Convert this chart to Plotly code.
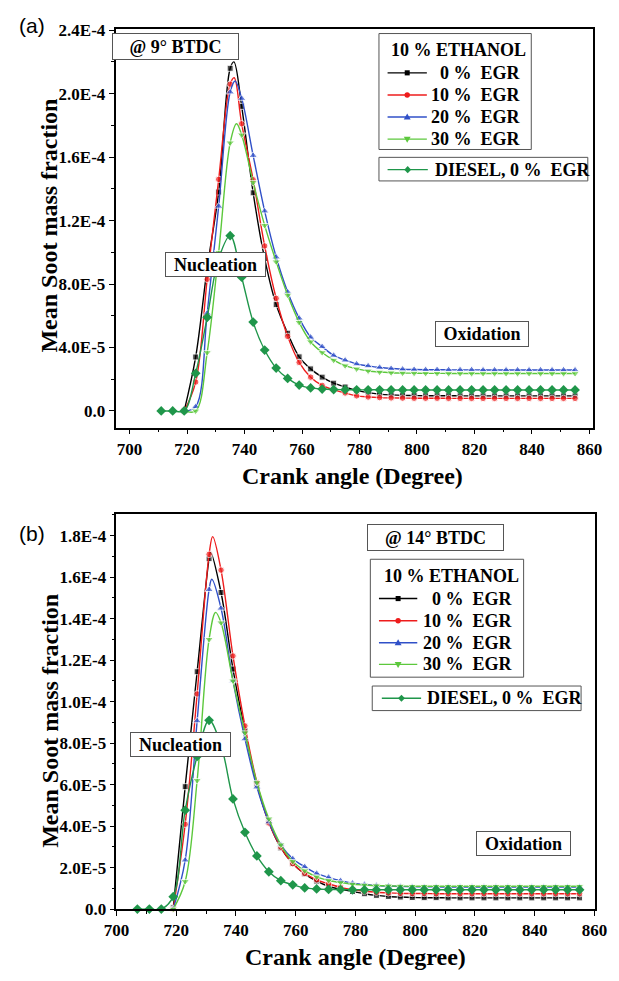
import plotly.graph_objects as go

# ---------------- crank-angle grids (degrees) ----------------
top_x_diesel = list(range(711, 856, 4))
top_x_eth = list(range(719, 856, 4))
bot_x_diesel = list(range(707, 856, 4))
bot_x_eth = list(range(719, 856, 4))

# ---------------- (a) injection @ 9 deg BTDC ----------------
top_eth0 = [0, 3.4e-5, 9.0e-5, 1.38e-4, 2.16e-4, 1.92e-4, 1.375e-4, 9.6e-5, 6.7e-5, 4.9e-5,
            3.41e-5, 2.65e-5, 2.13e-5, 1.75e-5, 1.51e-5, 1.3e-5, 1.15e-5, 1.06e-5, 1.01e-5, 9.8e-6,
            9.7e-6, 9.6e-6, 9.6e-6, 9.6e-6, 9.5e-6, 9.5e-6, 9.5e-6, 9.5e-6, 9.5e-6, 9.5e-6,
            9.5e-6, 9.5e-6, 9.5e-6, 9.5e-6, 9.5e-6]
top_eth10 = [0, 1.82e-5, 8.3e-5, 1.46e-4, 2.06e-4, 1.81e-4, 1.457e-4, 1.04e-4, 7.1e-5, 4.7e-5,
             3.06e-5, 2.13e-5, 1.61e-5, 1.33e-5, 1.13e-5, 9.5e-6, 8.8e-6, 8.4e-6, 8.2e-6, 8.1e-6,
             8.0e-6, 8.0e-6, 8.0e-6, 7.9e-6, 7.9e-6, 7.9e-6, 7.9e-6, 7.9e-6, 7.9e-6, 7.9e-6,
             7.9e-6, 7.9e-6, 7.9e-6, 7.9e-6, 7.9e-6]
top_eth20 = [0, 2.7e-6, 6.16e-5, 1.29e-4, 2.01e-4, 1.97e-4, 1.61e-4, 1.26e-4, 9.7e-5, 7.5e-5,
             5.85e-5, 4.65e-5, 4.05e-5, 3.5e-5, 3.2e-5, 2.96e-5, 2.84e-5, 2.74e-5, 2.67e-5, 2.63e-5,
             2.61e-5, 2.6e-5, 2.6e-5, 2.59e-5, 2.59e-5, 2.59e-5, 2.58e-5, 2.58e-5, 2.58e-5, 2.58e-5,
             2.58e-5, 2.58e-5, 2.58e-5, 2.58e-5, 2.58e-5]
top_eth30 = [0, 0, 3.68e-5, 1.0e-4, 1.69e-4, 1.74e-4, 1.44e-4, 1.17e-4, 9.4e-5, 7.3e-5,
             5.58e-5, 4.36e-5, 3.68e-5, 3.2e-5, 2.85e-5, 2.65e-5, 2.52e-5, 2.45e-5, 2.41e-5, 2.39e-5,
             2.38e-5, 2.37e-5, 2.37e-5, 2.36e-5, 2.36e-5, 2.36e-5, 2.36e-5, 2.36e-5, 2.36e-5, 2.36e-5,
             2.36e-5, 2.36e-5, 2.36e-5, 2.36e-5, 2.36e-5]
top_diesel = [0, 0, 0, 2.37e-5, 5.9e-5, 9.6e-5, 1.105e-4, 8.43e-5, 5.6e-5, 3.84e-5,
              2.7e-5, 2.05e-5, 1.63e-5, 1.45e-5, 1.38e-5, 1.35e-5, 1.34e-5, 1.33e-5, 1.33e-5, 1.33e-5,
              1.32e-5, 1.32e-5, 1.32e-5, 1.32e-5, 1.32e-5, 1.32e-5, 1.32e-5, 1.32e-5, 1.32e-5, 1.32e-5,
              1.32e-5, 1.32e-5, 1.32e-5, 1.32e-5, 1.32e-5, 1.32e-5, 1.32e-5]
# curve maxima between sampled points (angle, value)
top_peaks = {"0": (736.3, 2.2e-4), "10": (736.4, 2.1e-4), "20": (736.7, 2.08e-4), "30": (737.2, 1.81e-4)}

# ---------------- (b) injection @ 14 deg BTDC ----------------
bot_eth0 = [6e-7, 5.9e-5, 1.144e-4, 1.689e-4, 1.526e-4, 1.157e-4, 8.6e-5, 6.0e-5, 4.2e-5, 2.95e-5,
            2.2e-5, 1.7e-5, 1.35e-5, 1.1e-5, 9.5e-6, 8.5e-6, 7.4e-6, 6.6e-6, 6.1e-6, 5.8e-6,
            5.6e-6, 5.5e-6, 5.5e-6, 5.4e-6, 5.4e-6, 5.4e-6, 5.4e-6, 5.4e-6, 5.4e-6, 5.4e-6,
            5.4e-6, 5.4e-6, 5.4e-6, 5.4e-6, 5.4e-6]
bot_eth10 = [0, 4.09e-5, 1.037e-4, 1.71e-4, 1.634e-4, 1.22e-4, 8.83e-5, 6.1e-5, 4.15e-5, 2.99e-5,
             2.19e-5, 1.72e-5, 1.41e-5, 1.22e-5, 1.05e-5, 9.3e-6, 8.6e-6, 8.1e-6, 7.8e-6, 7.6e-6,
             7.5e-6, 7.5e-6, 7.4e-6, 7.4e-6, 7.4e-6, 7.4e-6, 7.4e-6, 7.4e-6, 7.4e-6, 7.4e-6,
             7.4e-6, 7.4e-6, 7.4e-6, 7.4e-6, 7.4e-6]
bot_eth20 = [0, 2.36e-5, 9.07e-5, 1.54e-4, 1.45e-4, 1.1e-4, 8.2e-5, 5.88e-5, 4.2e-5, 3.1e-5,
             2.43e-5, 2.04e-5, 1.72e-5, 1.53e-5, 1.37e-5, 1.25e-5, 1.19e-5, 1.14e-5, 1.11e-5, 1.09e-5,
             1.08e-5, 1.07e-5, 1.07e-5, 1.06e-5, 1.06e-5, 1.06e-5, 1.06e-5, 1.06e-5, 1.06e-5, 1.06e-5,
             1.06e-5, 1.06e-5, 1.06e-5, 1.06e-5, 1.06e-5]
bot_eth30 = [0, 1.33e-5, 6.2e-5, 1.3e-4, 1.38e-4, 1.1e-4, 8.5e-5, 6.1e-5, 4.35e-5, 3.1e-5,
             2.3e-5, 1.85e-5, 1.55e-5, 1.38e-5, 1.28e-5, 1.2e-5, 1.16e-5, 1.13e-5, 1.12e-5, 1.11e-5,
             1.1e-5, 1.1e-5, 1.1e-5, 1.1e-5, 1.1e-5, 1.1e-5, 1.1e-5, 1.1e-5, 1.1e-5, 1.1e-5,
             1.1e-5, 1.1e-5, 1.1e-5, 1.1e-5, 1.1e-5]
bot_diesel = [0, 0, 0, 6e-6, 4.77e-5, 7.36e-5, 9.1e-5, 7.9e-5, 5.31e-5, 3.7e-5,
              2.56e-5, 1.8e-5, 1.37e-5, 1.17e-5, 1.02e-5, 9.7e-6, 9.5e-6, 9.4e-6, 9.3e-6, 9.3e-6,
              9.3e-6, 9.3e-6, 9.3e-6, 9.3e-6, 9.3e-6, 9.3e-6, 9.3e-6, 9.3e-6, 9.3e-6, 9.3e-6,
              9.3e-6, 9.3e-6, 9.3e-6, 9.3e-6, 9.3e-6, 9.3e-6, 9.3e-6, 9.3e-6]
bot_peaks = {"0": (731.5, 1.72e-4), "10": (732.2, 1.795e-4), "20": (731.9, 1.59e-4), "30": (733.2, 1.43e-4)}

# ---------------- axis ticks and legend text ----------------
x_ticks = [700, 720, 740, 760, 780, 800, 820, 840, 860]
x_ticktext = ["700", "720", "740", "760", "780", "800", "820", "840", "860"]
top_yticks = [0, 4e-5, 8e-5, 1.2e-4, 1.6e-4, 2.0e-4, 2.4e-4]
top_yticktext = ["0.0", "4.0E-5", "8.0E-5", "1.2E-4", "1.6E-4", "2.0E-4", "2.4E-4"]
bot_yticks = [0, 2e-5, 4e-5, 6e-5, 8e-5, 1.0e-4, 1.2e-4, 1.4e-4, 1.6e-4, 1.8e-4]
bot_yticktext = ["0.0", "2.0E-5", "4.0E-5", "6.0E-5", "8.0E-5", "1.0E-4", "1.2E-4", "1.4E-4", "1.6E-4", "1.8E-4"]
eth_keys = ["0", "10", "20", "30"]
eth_labels = ["0 %\u00a0 EGR", "10 %\u00a0 EGR", "20 %\u00a0 EGR", "30 %\u00a0 EGR"]
eth_group_title = "10 % ETHANOL"
diesel_label = "DIESEL, 0 %\u00a0 EGR"

W, H = 619, 981
SERIF = "Liberation Serif"
BLACK, RED, BLUE, LGREEN, DGREEN = "#000000", "#ee1c1c", "#3050c8", "#5cc83c", "#1f964a"
STYLE = {
    "0": (BLACK, "square", 6),
    "10": (RED, "circle", 6.5),
    "20": (BLUE, "triangle-up", 7.5),
    "30": (LGREEN, "triangle-down", 7.5),
    "diesel": (DGREEN, "diamond", 7.5),
}


def px(x):
    return x / W


def py(y):
    return 1 - y / H


def with_peak(xs, ys, peak, size):
    """Merge a curve-maximum point into the sampled series; it gets no marker."""
    pts = [(x, y, size) for x, y in zip(xs, ys)]
    if peak is not None:
        pts.append((peak[0], peak[1], 0))
    pts.sort(key=lambda p: p[0])
    return [p[0] for p in pts], [p[1] for p in pts], [p[2] for p in pts]


fig = go.Figure()

panels = [
    dict(xa="x", ya="y", eth_x=top_x_eth, diesel_x=top_x_diesel, diesel=top_diesel,
         eth=[top_eth0, top_eth10, top_eth20, top_eth30], peaks=top_peaks),
    dict(xa="x2", ya="y2", eth_x=bot_x_eth, diesel_x=bot_x_diesel, diesel=bot_diesel,
         eth=[bot_eth0, bot_eth10, bot_eth20, bot_eth30], peaks=bot_peaks),
]

for p in panels:
    for key, label, ys in zip(eth_keys, eth_labels, p["eth"]):
        color, sym, size = STYLE[key]
        xs, yv, sizes = with_peak(p["eth_x"], ys, p["peaks"][key], size)
        fig.add_trace(go.Scatter(
            x=xs, y=yv, mode="lines+markers", name=label, showlegend=False,
            line=dict(color=color, width=1.4, shape="spline", smoothing=1.0),
            marker=dict(symbol=sym, size=sizes, color=color),
            xaxis=p["xa"], yaxis=p["ya"], cliponaxis=False,
        ))
    color, sym, size = STYLE["diesel"]
    fig.add_trace(go.Scatter(
        x=p["diesel_x"], y=p["diesel"], mode="lines+markers", name=diesel_label, showlegend=False,
        line=dict(color=color, width=1.4, shape="spline", smoothing=1.0),
        marker=dict(symbol=sym, size=size, color=color),
        xaxis=p["xa"], yaxis=p["ya"], cliponaxis=False,
    ))

tickfont = dict(family=SERIF, size=17, color="black", weight="bold")
common_axis = dict(
    showline=True, linecolor="black", linewidth=1.6, mirror=True,
    ticks="outside", ticklen=5, tickwidth=1.4, tickcolor="black",
    showgrid=False, zeroline=False, tickfont=tickfont, tickmode="array",
)


def minor(tick0, dtick):
    return dict(tickmode="linear", tick0=tick0, dtick=dtick, ticks="outside", ticklen=3,
                tickwidth=1.2, tickcolor="black")


fig.update_layout(
    width=W, height=H,
    margin=dict(l=0, r=0, t=0, b=0),
    paper_bgcolor="white", plot_bgcolor="white",
    showlegend=False,
    xaxis=dict(domain=[px(107), px(605)], anchor="y", range=[695.1, 861.1],
               tickvals=x_ticks, ticktext=x_ticktext, minor=minor(700, 10), **common_axis),
    yaxis=dict(domain=[py(428), py(22)], anchor="x", range=[-1.05e-5, 2.41e-4],
               tickvals=top_yticks, ticktext=top_yticktext, minor=minor(0, 2e-5), **common_axis),
    xaxis2=dict(domain=[px(108), px(607)], anchor="y2", range=[700, 860],
                tickvals=x_ticks, ticktext=x_ticktext, minor=minor(700, 10), **common_axis),
    yaxis2=dict(domain=[py(918), py(516)], anchor="x2", range=[0, 1.904e-4],
                tickvals=bot_yticks, ticktext=bot_yticktext, minor=minor(0, 1e-5), **common_axis),
)

# ---------------- hand-built legend boxes ----------------
shapes = []
annotations = []
text_font = dict(family=SERIF, size=18, color="black", weight="bold")
BOX_EDGE = "#555555"


def rect(x0, y0, x1, y1):
    shapes.append(dict(type="rect", xref="paper", yref="paper",
                       x0=px(x0), x1=px(x1), y0=py(y1), y1=py(y0),
                       fillcolor="white", line=dict(color=BOX_EDGE, width=1)))


def glyph(kind, cx, cy, color):
    """Small legend marker drawn as a shape centred on (cx, cy) in pixels."""
    if kind == "square":
        r = 2.6
        shapes.append(dict(type="rect", xref="paper", yref="paper",
                           x0=px(cx - r), x1=px(cx + r), y0=py(cy + r), y1=py(cy - r),
                           fillcolor=color, line=dict(width=0)))
        return
    if kind == "circle":
        r = 2.8
        shapes.append(dict(type="circle", xref="paper", yref="paper",
                           x0=px(cx - r), x1=px(cx + r), y0=py(cy + r), y1=py(cy - r),
                           fillcolor=color, line=dict(width=0)))
        return
    r = 3.6
    if kind == "triangle-up":
        pts = [(cx, cy - r), (cx + r, cy + r * 0.7), (cx - r, cy + r * 0.7)]
    elif kind == "triangle-down":
        pts = [(cx, cy + r), (cx + r, cy - r * 0.7), (cx - r, cy - r * 0.7)]
    else:
        pts = [(cx, cy - r), (cx + r, cy), (cx, cy + r), (cx - r, cy)]
    path = "M " + " L ".join(f"{px(x):.6f},{py(y):.6f}" for x, y in pts) + " Z"
    shapes.append(dict(type="path", xref="paper", yref="paper", path=path,
                       fillcolor=color, line=dict(width=0)))


def sample(key, x0, x1, y):
    color, sym, _ = STYLE[key]
    shapes.append(dict(type="line", xref="paper", yref="paper",
                       x0=px(x0), x1=px(x1), y0=py(y), y1=py(y),
                       line=dict(color=color, width=1.4)))
    glyph(sym, (x0 + x1) / 2, y, color)


def label(text, x, y, anchor):
    annotations.append(dict(text=text, x=px(x), y=py(y), xref="paper", yref="paper",
                            xanchor=anchor, yanchor="middle", showarrow=False, font=text_font))


def eth_legend(box, title_xy, rows_y, line_x, text_right):
    rect(*box)
    label(eth_group_title, title_xy[0], title_xy[1], "center")
    for key, text, y in zip(eth_keys, eth_labels, rows_y):
        sample(key, line_x[0], line_x[1], y)
        label(text, text_right, y, "right")


def diesel_legend(box, row_y, line_x, text_left):
    rect(*box)
    sample("diesel", line_x[0], line_x[1], row_y)
    label(diesel_label, text_left, row_y, "left")


eth_legend((382, 27, 541, 145), (465, 44), [67, 89.5, 112, 134.5], (391, 432), 532)
diesel_legend((382, 153, 600, 177), 165.5, (391, 433), 438)
eth_legend((373, 562, 533, 682), (458, 579), [602, 624.5, 647, 669], (382, 422), 524)
diesel_legend((375, 691, 593, 716), 703.5, (385, 426), 430)


def boxed(text, cx, cy, w, h):
    annotations.append(dict(text=text, x=px(cx), y=py(cy), xref="paper", yref="paper",
                            xanchor="center", yanchor="middle", showarrow=False,
                            width=w, height=h, align="center", valign="middle",
                            bgcolor="white", bordercolor=BOX_EDGE, borderwidth=1, borderpad=0,
                            font=text_font))


boxed("@ 9° BTDC", 170, 40, 125, 25)
boxed("Nucleation", 211, 262, 99, 23)
boxed("Oxidation", 490, 333, 92, 24)
boxed("@ 14° BTDC", 441, 540, 135, 25)
boxed("Nucleation", 175, 750, 99, 23)
boxed("Oxidation", 533, 851, 93, 23)

title_font = dict(family=SERIF, size=24, color="black", weight="bold")
for text, cx, cy, ang in [
    ("Mean Soot mass fraction", 38, 222, -90),
    ("Mean Soot mass fraction", 39, 726, -90),
    ("Crank angle (Degree)", 354, 477, 0),
    ("Crank angle (Degree)", 358, 967, 0),
]:
    annotations.append(dict(text=text, x=px(cx), y=py(cy), xref="paper", yref="paper",
                            xanchor="center", yanchor="middle", showarrow=False,
                            textangle=ang, font=title_font))
for text, cx, cy in [("(a)", 20, 19), ("(b)", 20, 536)]:
    annotations.append(dict(text=text, x=px(cx), y=py(cy), xref="paper", yref="paper",
                            xanchor="center", yanchor="middle", showarrow=False,
                            font=dict(family="Liberation Sans", size=21, color="black")))

fig.update_layout(shapes=shapes, annotations=annotations)

fig.write_html("out.html")
